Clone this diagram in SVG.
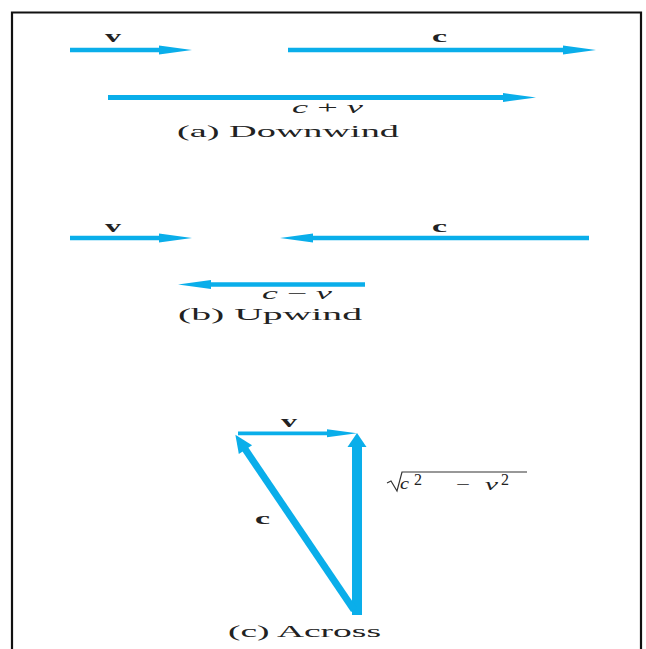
<svg xmlns="http://www.w3.org/2000/svg" width="646" height="649" viewBox="0 0 646 649">
<style>
.vec{stroke:#0aaeea;fill:none;stroke-linecap:butt}
.t{font-family:"Liberation Serif","Times New Roman",serif;fill:#222;font-size:16px}
.b{font-weight:bold}
.i{font-style:italic}
</style>
<defs>
<marker id="h1" markerUnits="userSpaceOnUse" markerWidth="34" markerHeight="10" refX="0" refY="5" orient="auto" overflow="visible"><path d="M-1,0.5 L32,5 L-1,9.5 Z" fill="#0aaeea"/></marker>
<marker id="h2" markerUnits="userSpaceOnUse" markerWidth="30" markerHeight="9" refX="0" refY="4.5" orient="auto" overflow="visible"><path d="M-1,0.5 L29,4.5 L-1,8.5 Z" fill="#0aaeea"/></marker>
<marker id="h3" markerUnits="userSpaceOnUse" markerWidth="14" markerHeight="20" refX="0" refY="10" orient="auto" overflow="visible"><path d="M-1,0.5 L13,10 L-1,19.5 Z" fill="#0aaeea"/></marker>
<marker id="h4" markerUnits="userSpaceOnUse" markerWidth="18" markerHeight="17" refX="0" refY="8.5" orient="auto" overflow="visible"><path d="M-1,0.5 L17,8.5 L-1,16.5 Z" fill="#0aaeea"/></marker>
</defs>
<rect width="646" height="649" fill="#fff"/>
<path d="M12,649 V12.5 H641 V649" fill="none" stroke="#111" stroke-width="2.2"/>
<g id="connectors">
<line class="vec" x1="70" y1="50" x2="160" y2="50" stroke-width="4.5" marker-end="url(#h1)"/>
<line class="vec" x1="288" y1="50" x2="564" y2="50" stroke-width="4.5" marker-end="url(#h1)"/>
<line class="vec" x1="108" y1="97.5" x2="504" y2="97.5" stroke-width="5" marker-end="url(#h1)"/>
<line class="vec" x1="70" y1="238" x2="160" y2="238" stroke-width="4.5" marker-end="url(#h1)"/>
<line class="vec" x1="589" y1="238" x2="312" y2="238" stroke-width="4.5" marker-end="url(#h1)"/>
<line class="vec" x1="365" y1="284.5" x2="210" y2="284.5" stroke-width="4.5" marker-end="url(#h1)"/>
<line class="vec" x1="238" y1="433.3" x2="328" y2="433.3" stroke-width="3.8" marker-end="url(#h2)"/>
<line class="vec" x1="357" y1="615" x2="357" y2="446" stroke-width="10" marker-end="url(#h3)"/>
<line class="vec" x1="354" y1="610" x2="244.9" y2="448.8" stroke-width="7" marker-end="url(#h4)"/>
</g>
<g id="label-a">
<text class="t b" x="105" y="42" textLength="16" lengthAdjust="spacingAndGlyphs">v</text>
<text class="t b" x="432" y="42" textLength="15" lengthAdjust="spacingAndGlyphs">c</text>
<text class="t" x="292" y="113" font-size="15" textLength="71" lengthAdjust="spacingAndGlyphs"><tspan class="i">c</tspan> + <tspan class="i">v</tspan></text>
<text class="t" x="177" y="137" font-size="17" textLength="222" lengthAdjust="spacingAndGlyphs">(a) Downwind</text>
</g>
<g id="label-b">
<text class="t b" x="105" y="232" textLength="16" lengthAdjust="spacingAndGlyphs">v</text>
<text class="t b" x="432" y="232" textLength="15" lengthAdjust="spacingAndGlyphs">c</text>
<text class="t" x="262" y="299" font-size="14" textLength="70" lengthAdjust="spacingAndGlyphs"><tspan class="i">c</tspan> − <tspan class="i">v</tspan></text>
<text class="t" x="178" y="320" font-size="17" textLength="184" lengthAdjust="spacingAndGlyphs">(b) Upwind</text>
</g>
<g id="label-c">
<text class="t b" x="281" y="427" textLength="16" lengthAdjust="spacingAndGlyphs">v</text>
<text class="t b" x="255" y="524" textLength="15" lengthAdjust="spacingAndGlyphs">c</text>
<path d="M387,483 L391,481 L397,491 L402,472 H527" fill="none" stroke="#333" stroke-width="1.2"/>
<text class="t i" x="400" y="489" font-size="14" textLength="9" lengthAdjust="spacingAndGlyphs">c</text>
<text class="t" x="414" y="485" font-size="11" textLength="8" lengthAdjust="spacingAndGlyphs">2</text>
<text class="t" x="456" y="490" font-size="14" textLength="14" lengthAdjust="spacingAndGlyphs">−</text>
<text class="t i" x="485" y="490" font-size="14" textLength="13" lengthAdjust="spacingAndGlyphs">v</text>
<text class="t" x="501" y="485" font-size="11" textLength="8" lengthAdjust="spacingAndGlyphs">2</text>
<text class="t" x="228" y="637" font-size="17" textLength="153" lengthAdjust="spacingAndGlyphs">(c) Across</text>
</g>
</svg>
